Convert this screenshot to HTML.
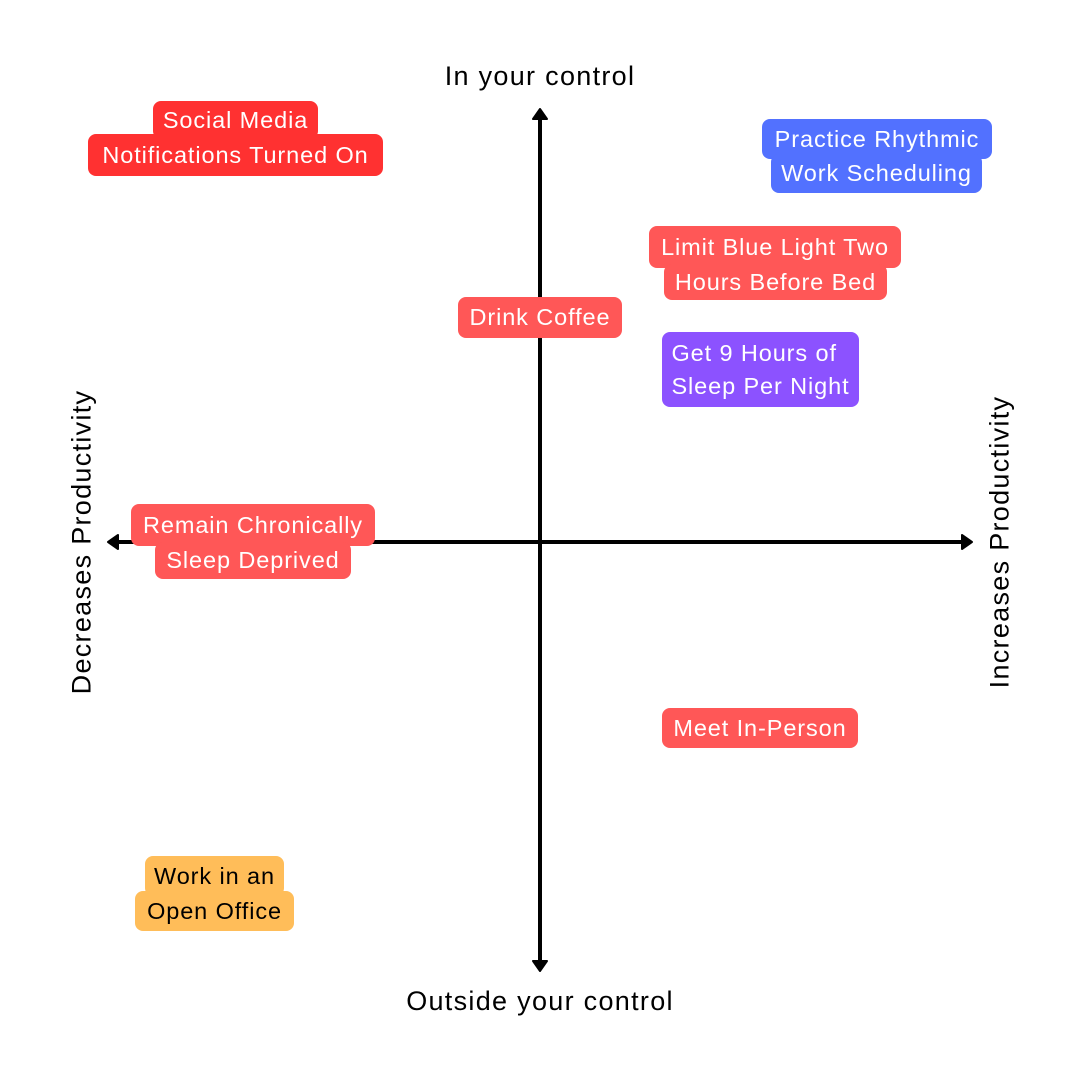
<!DOCTYPE html>
<html><head><meta charset="utf-8"><style>
body{margin:0;width:1080px;height:1080px;background:#fff;position:relative;overflow:hidden;font-family:"Liberation Sans",sans-serif}
.b{position:absolute;display:flex;align-items:center;justify-content:center;color:#fff;font-size:23.5px;letter-spacing:0.9px;border-radius:8px;white-space:nowrap}
.r{background:#ff5757}.rr{background:#ff3131}.bl{background:#5271ff}.pu{background:#8c52ff}.or{background:#ffbd59;color:#000}
.t{position:absolute;font-size:27px;letter-spacing:1.3px;color:#000;white-space:nowrap}
</style></head><body>
<svg width="1080" height="1080" style="position:absolute;left:0;top:0">
<line x1="540" y1="118" x2="540" y2="962" stroke="#000" stroke-width="4"/>
<line x1="117" y1="542" x2="962" y2="542" stroke="#000" stroke-width="4"/>
<polygon points="540,109 533,119 547,119" fill="#000" stroke="#000" stroke-width="2" stroke-linejoin="round"/>
<polygon points="540,971 533,961 547,961" fill="#000" stroke="#000" stroke-width="2" stroke-linejoin="round"/>
<polygon points="108,542 118,535 118,549" fill="#000" stroke="#000" stroke-width="2" stroke-linejoin="round"/>
<polygon points="972,542 962,535 962,549" fill="#000" stroke="#000" stroke-width="2" stroke-linejoin="round"/>
</svg>
<div class="t" style="left:0;width:1080px;text-align:center;top:61px">In your control</div>
<div class="t" style="left:0;width:1080px;text-align:center;top:986px">Outside your control</div>
<div class="t" style="left:82px;top:542px;transform:translate(-50%,-50%) rotate(-90deg)">Decreases Productivity</div>
<div class="t" style="left:1000px;top:542px;transform:translate(-50%,-50%) rotate(-90deg)">Increases Productivity</div>

<div class="b rr" style="left:153px;top:101px;width:165px;height:38px">Social Media</div>
<div class="b rr" style="left:88px;top:134px;width:295px;height:42px">Notifications Turned On</div>

<div class="b bl" style="left:762px;top:119px;width:230px;height:40px">Practice Rhythmic</div>
<div class="b bl" style="left:771px;top:154px;width:211px;height:39px">Work Scheduling</div>

<div class="b r" style="left:649px;top:226px;width:252px;height:42px">Limit Blue Light Two</div>
<div class="b r" style="left:664px;top:264px;width:223px;height:36px">Hours Before Bed</div>

<div class="b r" style="left:458px;top:297px;width:164px;height:41px">Drink Coffee</div>

<div class="b pu" style="left:662px;top:332px;width:197px;height:75px;flex-direction:column;line-height:33px">Get 9 Hours of<br>Sleep Per Night</div>

<div class="b r" style="left:131px;top:504px;width:244px;height:42px">Remain Chronically</div>
<div class="b r" style="left:155px;top:542px;width:196px;height:37px">Sleep Deprived</div>

<div class="b r" style="left:662px;top:708px;width:196px;height:40px">Meet In-Person</div>

<div class="b or" style="left:145px;top:856px;width:139px;height:40px">Work in an</div>
<div class="b or" style="left:135px;top:891px;width:159px;height:40px">Open Office</div>
</body></html>
